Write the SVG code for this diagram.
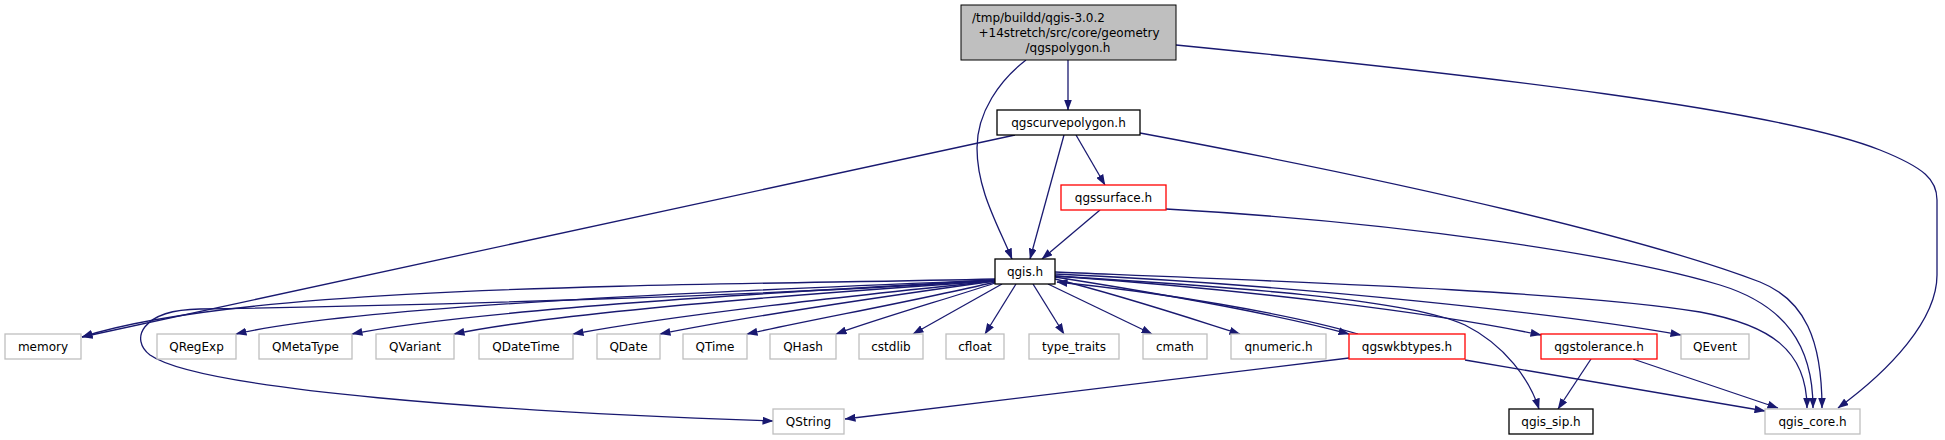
<svg xmlns="http://www.w3.org/2000/svg" width="1945" height="440" viewBox="0 0 1945 440">
<style>
.n rect{fill:#ffffff;stroke-width:1.3}
.b rect{stroke:#000000}
.g rect{stroke:#bfbfbf}
.r rect{stroke:#ff0000}
.m rect{fill:#bfbfbf;stroke:#000000}
text{font-family:"DejaVu Sans","Liberation Sans",sans-serif;font-size:12px;fill:#000000;text-anchor:middle}
.e path{fill:none;stroke:#191970;stroke-width:1.3;marker-end:url(#a)}
</style>
<defs>
<marker id="a" markerWidth="11" markerHeight="8" refX="10.5" refY="4" orient="auto" markerUnits="userSpaceOnUse"><path d="M0,0 L11,4 L0,8 z" fill="#191970"/></marker>
</defs>
<rect width="1945" height="440" fill="#ffffff"/>
<g class="e" id="edges">
<path d="M1068,60 L1068,110"/>
<path d="M1026,60 C1000,80 977,112 977,148 C977,190 998,225 1012,259"/>
<path d="M1176,45 C1480,75 1780,110 1880,150 C1925,168 1937,180 1937,200 L1937,275 C1937,320 1890,370 1838,408"/>
<path d="M1015,135 L82,337"/>
<path d="M1064,135 L1030,259"/>
<path d="M1076,135 L1105,185"/>
<path d="M1140,133 C1420,185 1650,240 1760,282 C1805,300 1822,340 1822,408"/>
<path d="M1100,210 L1042,259"/>
<path d="M1166,209 C1400,222 1620,255 1720,285 C1785,305 1813,345 1813,408"/>
<path d="M995,279 C700,286 250,283 82,337"/>
<path d="M995,280 C800,295 400,306 200,309 C140,310 130,340 150,355 C200,390 500,412 773,421"/>
<path d="M995,280 C750,290 360,305 236,334"/>
<path d="M995,280 C780,292 470,310 352,334"/>
<path d="M995,281 C800,294 560,312 454,334"/>
<path d="M995,281 C850,296 680,314 573,334"/>
<path d="M995,281 C880,297 750,316 660,334"/>
<path d="M995,282 C920,300 820,318 747,334"/>
<path d="M995,283 C950,298 880,318 836,334"/>
<path d="M1002,284 L913,334"/>
<path d="M1016,284 L985,334"/>
<path d="M1033,284 L1064,334"/>
<path d="M1048,284 L1152,334"/>
<path d="M1055,279 C1120,295 1180,315 1240,334"/>
<path d="M1055,277 C1150,292 1280,315 1349,334"/>
<path d="M1358,334 C1290,314 1160,292 1057,282"/>
<path d="M1055,276 C1250,290 1430,312 1541,335"/>
<path d="M1055,274 C1300,285 1570,315 1681,335"/>
<path d="M1055,272 C1300,282 1580,292 1700,312 C1770,325 1807,350 1807,408"/>
<path d="M1055,276 C1250,288 1410,300 1465,325 C1505,345 1530,380 1539,409"/>
<path d="M1349,358 L845,419"/>
<path d="M1465,360 L1765,411"/>
<path d="M1591,359 L1558,409"/>
<path d="M1633,359 L1778,408"/>
</g>
<g id="main" class="m"><rect x="961" y="5" width="215" height="55"/><text x="972" y="22" style="text-anchor:start">/tmp/buildd/qgis-3.0.2</text><text x="1069" y="37">+14stretch/src/core/geometry</text><text x="1068" y="52">/qgspolygon.h</text></g>
<g id="qgscurvepolygon" class="n b"><rect x="997" y="110" width="143" height="25"/><text x="1068.5" y="127">qgscurvepolygon.h</text></g>
<g id="qgssurface" class="n r"><rect x="1061" y="185" width="105" height="25"/><text x="1113.5" y="202">qgssurface.h</text></g>
<g id="qgis" class="n b"><rect x="995" y="259" width="60" height="25"/><text x="1025" y="276">qgis.h</text></g>
<g id="memory" class="n g"><rect x="5" y="334" width="76" height="25"/><text x="43" y="351">memory</text></g>
<g id="QRegExp" class="n g"><rect x="157" y="334" width="79" height="25"/><text x="196.5" y="351">QRegExp</text></g>
<g id="QMetaType" class="n g"><rect x="259" y="334" width="93" height="25"/><text x="305.5" y="351">QMetaType</text></g>
<g id="QVariant" class="n g"><rect x="376" y="334" width="78" height="25"/><text x="415" y="351">QVariant</text></g>
<g id="QDateTime" class="n g"><rect x="479" y="334" width="94" height="25"/><text x="526" y="351">QDateTime</text></g>
<g id="QDate" class="n g"><rect x="597" y="334" width="63" height="25"/><text x="628.5" y="351">QDate</text></g>
<g id="QTime" class="n g"><rect x="683" y="334" width="64" height="25"/><text x="715" y="351">QTime</text></g>
<g id="QHash" class="n g"><rect x="770" y="334" width="66" height="25"/><text x="803" y="351">QHash</text></g>
<g id="cstdlib" class="n g"><rect x="859" y="334" width="64" height="25"/><text x="891" y="351">cstdlib</text></g>
<g id="cfloat" class="n g"><rect x="946" y="334" width="58" height="25"/><text x="975" y="351">cfloat</text></g>
<g id="type_traits" class="n g"><rect x="1029" y="334" width="90" height="25"/><text x="1074" y="351">type_traits</text></g>
<g id="cmath" class="n g"><rect x="1143" y="334" width="64" height="25"/><text x="1175" y="351">cmath</text></g>
<g id="qnumeric" class="n g"><rect x="1231" y="334" width="95" height="25"/><text x="1278.5" y="351">qnumeric.h</text></g>
<g id="qgswkbtypes" class="n r"><rect x="1349" y="334" width="116" height="25"/><text x="1407" y="351">qgswkbtypes.h</text></g>
<g id="qgstolerance" class="n r"><rect x="1541" y="334" width="116" height="25"/><text x="1599" y="351">qgstolerance.h</text></g>
<g id="QEvent" class="n g"><rect x="1681" y="334" width="68" height="25"/><text x="1715" y="351">QEvent</text></g>
<g id="QString" class="n g"><rect x="773" y="409" width="71" height="25"/><text x="808.5" y="426">QString</text></g>
<g id="qgis_sip" class="n b"><rect x="1509" y="409" width="84" height="25"/><text x="1551" y="426">qgis_sip.h</text></g>
<g id="qgis_core" class="n g"><rect x="1765" y="409" width="95" height="25"/><text x="1812.5" y="426">qgis_core.h</text></g>
</svg>
